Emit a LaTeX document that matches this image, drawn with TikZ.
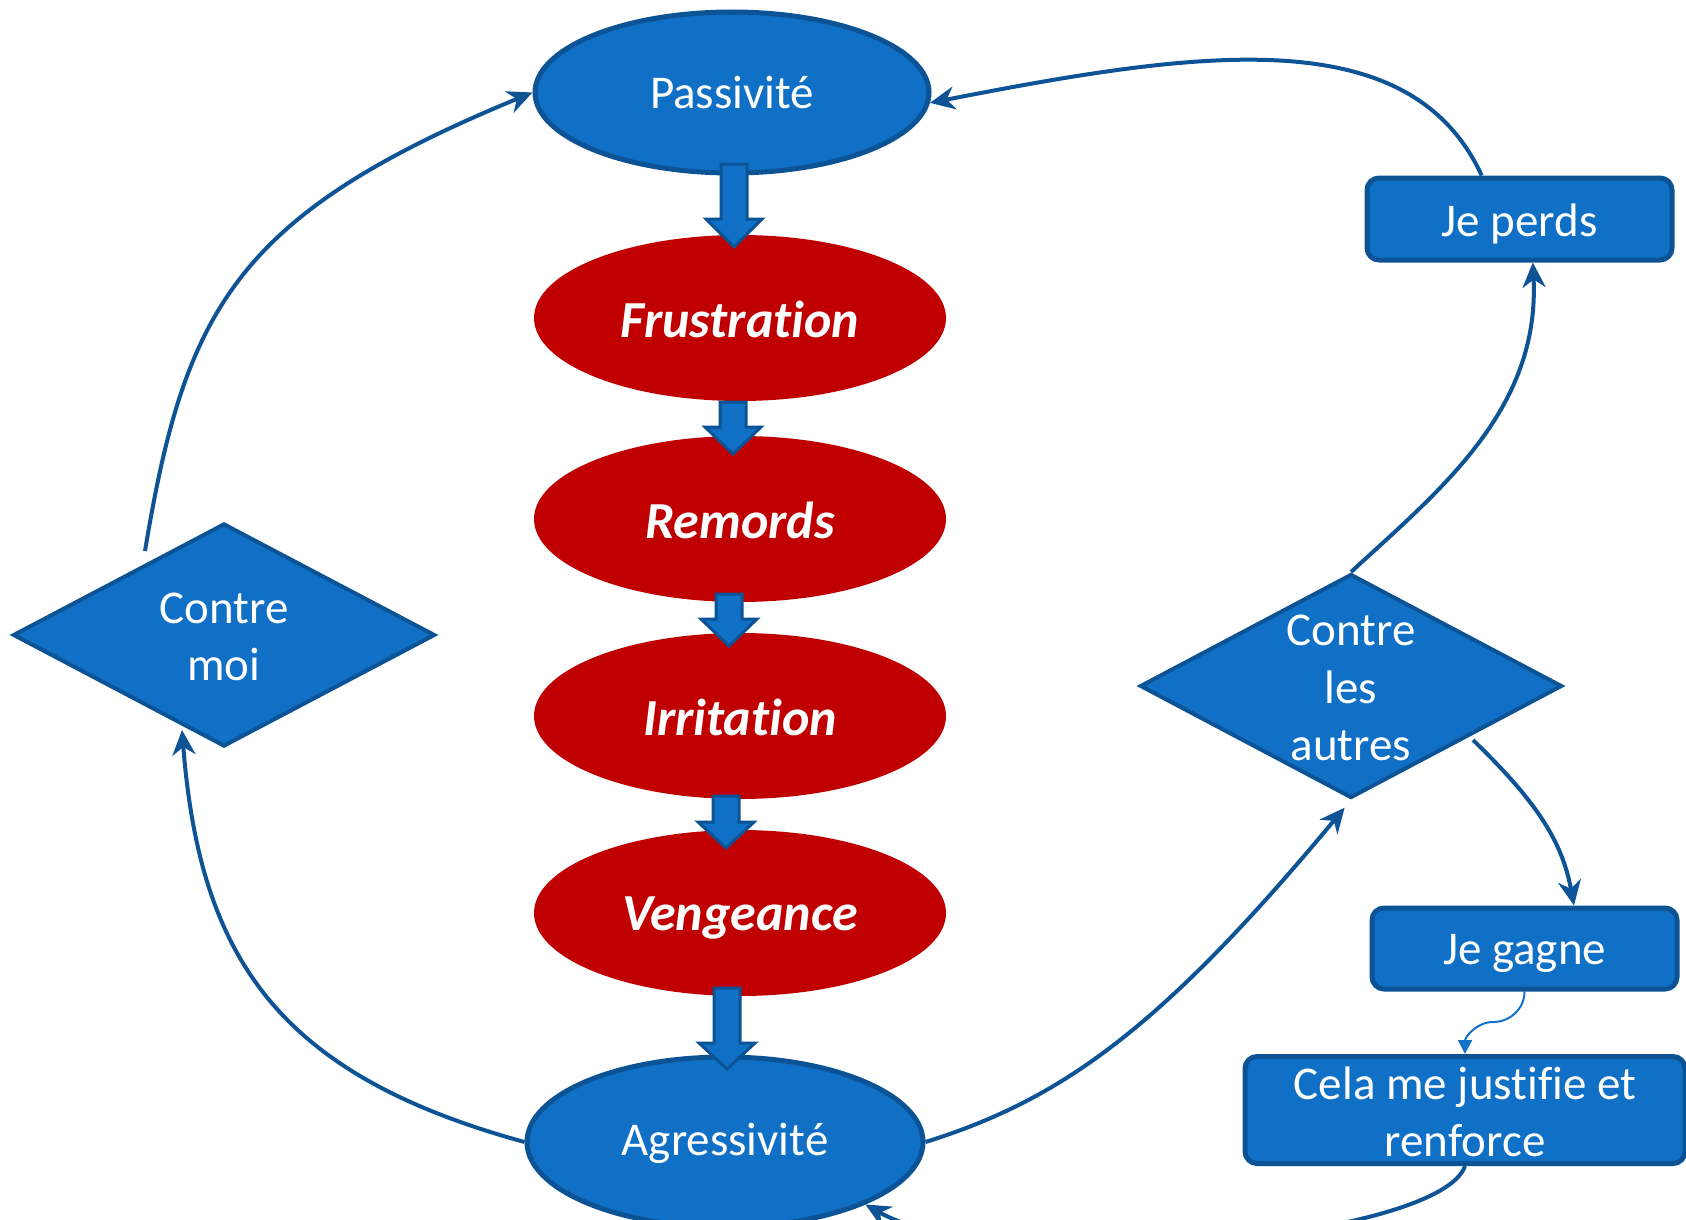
\documentclass[tikz,border=0pt]{standalone}
\usepackage{fontspec}
\setmainfont{Carlito}[Ligatures={NoCommon}]
\usetikzlibrary{shapes.geometric,arrows.meta}
\definecolor{fillblue}{HTML}{1070C6}
\definecolor{edgeblue}{HTML}{0B5394}
\definecolor{linkblue}{HTML}{0E5395}
\definecolor{lightlink}{HTML}{1272C8}
\definecolor{redfill}{HTML}{C00000}
\pgfdeclareradialshading{vign}{\pgfpoint{0bp}{0bp}}{color(0bp)=(white); color(44bp)=(white); color(71bp)=(gray!25)}
\newcommand{\bkarrow}[4]{\draw[blkarrow] (#1-13,#2) -- (#1+13,#2) -- (#1+13,#3) -- (#1+28,#3) -- (#1,#4) -- (#1-28,#3) -- (#1-13,#3) -- cycle;}
\newcommand{\lowr}[2]{\raisebox{-#1}[\height][\depth]{#2}}
\begin{document}
\begin{tikzpicture}[x=0.5pt,y=-0.5pt,
  bluefont/.style={font=\fontsize{23.5pt}{28.6pt}\selectfont},
  blueell/.style={ellipse, fill=fillblue, draw=edgeblue, line width=2.5pt, inner sep=0pt, text=white, bluefont},
  redell/.style={ellipse, fill=redfill, inner sep=0pt, minimum width=206pt, minimum height=83pt, text=white, font=\fontsize{26pt}{31pt}\selectfont\bfseries\itshape},
  bluebox/.style={rectangle, rounded corners=6pt, fill=fillblue, draw=edgeblue, line width=2.5pt, inner sep=0pt, text=white, align=center, bluefont},
  bluediam/.style={diamond, fill=fillblue, draw=edgeblue, line width=2pt, inner sep=0pt, minimum width=211pt, minimum height=111.5pt},
  diamtext/.style={text=white, align=center, inner sep=0pt, bluefont},
  conn/.style={draw=linkblue, line width=2pt, -{Stealth[length=12.5pt,width=11.5pt,inset=4pt]}},
  thinconn/.style={draw=lightlink, line width=1pt, -{Triangle[length=7pt,width=7pt]}},
  blkarrow/.style={fill=fillblue, draw=edgeblue, line width=1.5pt, line join=miter}
]
\useasboundingbox (0,0) rectangle (1686,1220);
\shade[shading=vign] (0,0) rectangle (1686,1220);

% nodes
\node[blueell, minimum width=197pt, minimum height=80.5pt] (pas) at (732,92.5) {Passivité};
\node[redell] (fru) at (740,318) {\lowr{0.6pt}{Frustration}};
\node[redell] (rem) at (740,519) {\lowr{0.6pt}{Remords}};
\node[redell] (irr) at (740,716) {\lowr{0.6pt}{Irritation}};
\node[redell] (ven) at (740,913) {\lowr{2.6pt}{Vengeance}};
\node[blueell, minimum width=198pt, minimum height=85pt] (agr) at (725,1142) {\lowr{0.6pt}{Agressivité}};

\node[bluediam] (cm) at (224,635) {};
\node[diamtext] (cmt) at ([yshift=-1pt]cm.center) {Contre\\moi};
\node[bluediam, minimum height=112pt] (cla) at (1351,686) {};
\node[diamtext] (clat) at ([yshift=-1pt]cla.center) {Contre\\les\\autres};

\node[bluebox, minimum width=152.5pt, minimum height=41pt] (jp) at (1519.5,219) {\lowr{2.6pt}{Je perds}};
\node[bluebox, minimum width=152.5pt, minimum height=40.5pt] (jg) at (1524.5,948.5) {\lowr{2.6pt}{Je gagne}};
\node[bluebox, minimum width=220pt, minimum height=53.5pt] (cela) at (1465,1110) {\lowr{1pt}{Cela me justifie et}\\\lowr{1pt}{renforce}};

% free ends
\coordinate (cmOut) at (145,551);
\coordinate (cmIn) at (182,730);
\coordinate (claOut) at (1473,740);
\coordinate (jgMid) at (1493,1022);

% connectors
\draw[conn] (cmOut) .. controls (185,310) and (235,215) .. (pas.west);
\draw[conn] (agr.west) .. controls (280,1075) and (200,960) .. (cmIn);
\draw[conn, shorten >=5pt] (agr.east) .. controls (1060,1100) and (1160,1030) .. (cla.south);
\draw[conn] (cla.north) .. controls (1440,490) and (1540,410) .. (jp.-73);
\draw[conn] (claOut) .. controls (1535,800) and (1562,840) .. (jg.41.6);
\draw[conn] (jp.131) .. controls (1410,20) and (1200,50) .. (pas.-3);
\draw[thinconn] (jg.south) to[out=-90,in=0] (jgMid) to[out=180,in=90] (cela.north);
\draw[conn] (cela.south) .. controls (1440,1240) and (1000,1280) .. (agr.-24);

% block arrows between the stages
\bkarrow{734}{164}{219}{247}
\bkarrow{733}{402}{427}{454}
\bkarrow{729}{594}{619}{646}
\bkarrow{726}{796}{822}{848}
\bkarrow{727}{988}{1043}{1069}
\end{tikzpicture}
\end{document}
